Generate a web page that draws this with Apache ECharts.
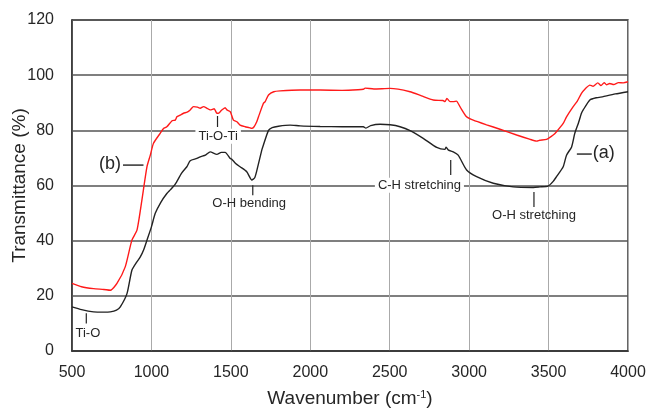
<!DOCTYPE html>
<html>
<head>
<meta charset="utf-8">
<script src="https://cdn.jsdelivr.net/npm/echarts@6/dist/echarts.min.js"></script>
<style>
html,body{margin:0;padding:0;background:#fff;}
#chart{width:649px;height:409px;}
</style>
</head>
<body>
<div id="chart"></div>
<script>
// (a) black spectrum
const waveA = [500,560,636,700,741,780,804,846,877,905,930,950,972,1000,1024,1060,1097,1120,1150,1190,1223,1244,1286,1307,1340,1370,1412,1440,1464,1496,1506,1530,1558,1600,1632,1650,1663,1695,1705,1737,1760,1800,1873,1936,2062,2200,2334,2350,2380,2439,2502,2565,2628,2711,2796,2848,2855,2870,2900,2931,2984,3047,3152,3278,3404,3445,3497,3529,3550,3592,3613,3645,3665,3687,3707,3718,3760,3800,3844,3865,3920,4000];
const transA = [16.0,15.0,14.2,14.1,14.2,14.8,16.0,20.8,29.3,32.0,34.1,36.5,40.2,45.0,49.9,54.0,57.1,58.5,60.5,64.5,66.8,69.0,69.8,70.4,71.0,72.2,71.3,72.0,72.0,69.8,69.5,68.0,66.8,65.0,62.0,62.8,65.3,72.9,74.7,80.0,81.0,81.5,81.9,81.6,81.4,81.3,81.3,80.8,81.7,82.2,82.0,81.3,79.9,77.1,73.8,73.1,73.9,72.8,72.2,71.0,65.6,63.2,60.8,59.5,59.3,59.5,59.8,61.5,63.2,66.8,71.0,74.0,78.9,82.5,86.2,87.4,91.0,91.8,92.2,92.5,93.2,94.0];
// (b) red spectrum
const waveB = [500,560,636,700,741,783,835,877,909,940,972,993,1013,1055,1076,1097,1130,1150,1160,1180,1202,1225,1244,1265,1290,1307,1328,1350,1370,1395,1412,1422,1440,1464,1475,1496,1516,1538,1558,1590,1615,1632,1645,1663,1674,1705,1716,1737,1770,1810,1936,2062,2200,2300,2334,2345,2400,2502,2628,2700,2774,2835,2848,2860,2880,2900,2920,2942,2984,3026,3110,3194,3299,3380,3425,3445,3487,3529,3550,3592,3613,3655,3680,3707,3730,3760,3780,3810,3830,3850,3865,3885,3910,3940,3970,4000];
const transB = [24.5,23.3,22.6,22.3,22.0,24.5,30.5,40.2,43.8,54.7,66.8,71.0,75.3,78.9,80.7,81.3,83.5,83.7,84.9,85.5,86.2,86.6,87.4,88.6,88.4,88.0,88.6,88.0,87.4,87.8,86.2,86.2,87.2,88.2,87.4,86.8,83.7,83.1,81.9,81.3,81.0,80.7,81.2,83.1,84.9,89.8,90.4,92.8,94.0,94.3,94.6,94.6,94.5,94.7,94.9,95.3,95.0,95.2,94.0,92.5,91.0,90.8,90.4,91.6,90.4,90.4,90.6,88.6,84.9,83.7,82.0,80.4,78.3,76.8,76.1,76.4,76.7,78.3,79.5,82.5,84.9,88.6,90.5,93.4,95.0,96.4,96.0,97.2,96.2,97.3,96.5,97.0,96.6,97.3,97.2,97.6];

// band annotations
const bandLabels = ['Ti-O','Ti-O-Ti','O-H bending','C-H stretching','O-H stretching'];
const bandTickX = [590,1416,1638,2884,3408];
const bandTickTop = [13.7,85.2,60.1,69.2,57.6];
const bandTickBottom = [10.0,81.2,56.5,63.8,52.2];
const bandLabelX = [600,1420,1615,2687,3408];
const bandLabelY = [6.4,77.9,53.6,60.1,49.3];
const bandLabelOnGrid = [false,true,false,true,false];

// curve labels
const curveLabels = ['(a)','(b)'];
const curveLineStart = [3678,821];
const curveLineEnd = [3772,950];
const curveLineY = [71.4,67.4];

const xTicks = [500,1000,1500,2000,2500,3000,3500,4000];
const yTicks = [0,20,40,60,80,100,120];

const pairs = (xs, ys) => xs.map((x, i) => [x, ys[i]]);
const txtColor = '#262626';
const font = 'Liberation Sans, Arial, sans-serif';

const chart = echarts.init(document.getElementById('chart'), null, {renderer: 'canvas'});
chart.setOption({
  animation: false,
  backgroundColor: '#fff',
  grid: {left: 72, right: 21, top: 20, bottom: 58, show: true, borderColor: '#333', borderWidth: 1.5,
    backgroundColor: 'transparent', containLabel: false, outerBoundsMode: 'none'},
  xAxis: {
    type: 'value', min: xTicks[0], max: xTicks[xTicks.length - 1], interval: 500,
    name: 'Wavenumber (cm{sup|-1})', nameLocation: 'middle', nameGap: 38,
    nameTextStyle: {fontSize: 19, color: txtColor, fontFamily: font,
      rich: {sup: {fontSize: 11, verticalAlign: 'top', color: txtColor, fontFamily: font}}},
    axisLine: {show: true, lineStyle: {color: '#333', width: 1.5}},
    axisTick: {show: false},
    axisLabel: {fontSize: 16, color: txtColor, fontFamily: font, margin: 14, formatter: v => String(v)},
    splitLine: {show: true, lineStyle: {color: '#aaa', width: 1}}
  },
  yAxis: {
    type: 'value', min: yTicks[0], max: yTicks[yTicks.length - 1], interval: 20,
    name: 'Transmittance (%)', nameLocation: 'middle', nameGap: 43, nameMoveOverlap: false,
    nameTextStyle: {fontSize: 19, color: txtColor, fontFamily: font},
    axisLine: {show: true, lineStyle: {color: '#333', width: 1.5}},
    axisTick: {show: false},
    axisLabel: {fontSize: 16, color: txtColor, fontFamily: font, margin: 18, formatter: v => String(v)},
    splitLine: {show: true, lineStyle: {color: '#555', width: 1.5}}
  },
  series: [
    {type: 'line', name: '(a)', data: pairs(waveA, transA), showSymbol: false, smooth: 0.2,
      lineStyle: {color: '#222', width: 1.4}, z: 3},
    {type: 'line', name: '(b)', data: pairs(waveB, transB), showSymbol: false, smooth: 0.2,
      lineStyle: {color: '#ff1a1a', width: 1.4}, z: 4},
    {type: 'custom', clip: false, z: 5,
      data: bandLabels.map((t, i) => [bandTickX[i], bandTickTop[i], bandTickBottom[i], bandLabelX[i], bandLabelY[i]]),
      renderItem: function (params, api) {
        const i = params.dataIndex;
        const p1 = api.coord([api.value(0), api.value(1)]);
        const p2 = api.coord([api.value(0), api.value(2)]);
        const pt = api.coord([api.value(3), api.value(4)]);
        const style = {text: bandLabels[i], fill: txtColor, font: '13px ' + font, align: 'center', verticalAlign: 'middle'};
        if (bandLabelOnGrid[i]) { style.backgroundColor = '#fff'; style.padding = [1, 3]; }
        return {type: 'group', children: [
          {type: 'line', shape: {x1: p1[0], y1: p1[1], x2: p2[0], y2: p2[1]}, style: {stroke: '#222', lineWidth: 1.2}},
          {type: 'text', x: pt[0], y: pt[1], style: style}
        ]};
      }
    },
    {type: 'custom', clip: false, z: 5,
      data: curveLabels.map((t, i) => [curveLineStart[i], curveLineEnd[i], curveLineY[i]]),
      renderItem: function (params, api) {
        const i = params.dataIndex;
        const a = api.coord([api.value(0), api.value(2)]);
        const b = api.coord([api.value(1), api.value(2)]);
        const left = curveLabels[i] === '(b)';
        return {type: 'group', children: [
          {type: 'line', shape: {x1: a[0], y1: a[1], x2: b[0], y2: b[1]}, style: {stroke: '#222', lineWidth: 1.4}},
          {type: 'text', x: left ? a[0] - 2 : b[0] + 1, y: a[1] - 1, style: {text: curveLabels[i], fill: txtColor,
            font: '18px ' + font, align: left ? 'right' : 'left', verticalAlign: 'middle'}}
        ]};
      }
    }
  ]
});
</script>
</body>
</html>
